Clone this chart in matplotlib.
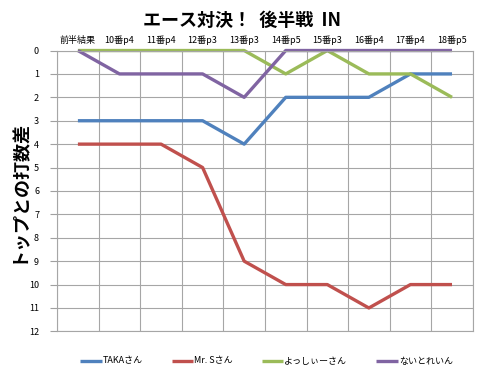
import numpy as np
import matplotlib.pyplot as plt

plt.rcParams['font.family'] = ['Noto Sans CJK JP', 'DejaVu Sans']

holes = ["前半結果", "10番p4", "11番p4", "12番p3", "13番p3",
         "14番p5", "15番p3", "16番p4", "17番p4", "18番p5"]
names = ["TAKAさん", "Mr. Sさん", "よっしぃーさん", "ないとれいん"]
taka = [3, 3, 3, 3, 4, 2, 2, 2, 1, 1]
mr_s = [4, 4, 4, 5, 9, 10, 10, 11, 10, 10]
yoshii = [0, 0, 0, 0, 0, 1, 0, 1, 1, 2]
naito = [0, 1, 1, 1, 2, 0, 0, 0, 0, 0]
colors = ["#4F81BD", "#C0504D", "#9BBB59", "#8064A2"]

fig = plt.figure(figsize=(4.8, 3.77), dpi=100)
ax = fig.add_axes([0.119, 0.121, 0.866, 0.745])

x = np.arange(len(holes))
for vals, name, c in zip([taka, mr_s, yoshii, naito], names, colors):
    ax.plot(x, vals, color=c, lw=2.4, label=name, solid_capstyle="butt",
            clip_on=False)

ax.set_xlim(-0.5, len(holes) - 0.5)
ax.set_ylim(12, 0)
ax.set_yticks(range(13))
ax.set_yticklabels([str(i) for i in range(13)], fontsize=6.5)
ax.xaxis.tick_top()
ax.set_xticks(x)
ax.set_xticklabels(holes, fontsize=6.5)
ax.tick_params(axis="x", length=0, pad=4)
ax.tick_params(axis="y", length=5, color="#A0A0A0", pad=8)
ax.set_xticks(np.arange(-0.5, len(holes)), minor=True)
ax.tick_params(axis="x", which="minor", length=0)
ax.grid(True, axis="x", which="minor", color="#A6A6A6", lw=0.8)
ax.grid(True, axis="y", which="major", color="#A6A6A6", lw=0.8)
for s in ax.spines.values():
    s.set_color("#A6A6A6")
    s.set_linewidth(0.8)
ax.set_axisbelow(True)

ax.set_ylabel("トップとの打数差", fontsize=13, fontweight="bold", labelpad=1)
fig.text(0.505, 0.945, "エース対決！  後半戦  IN", ha="center", va="center",
         fontsize=13, fontweight="bold")

fig.legend(loc="center", bbox_to_anchor=(0.555, 0.042), ncol=4, frameon=False,
           fontsize=6.5, handlelength=2.4, handletextpad=0.1, columnspacing=3.2)

fig.savefig("out.png", dpi=100)
